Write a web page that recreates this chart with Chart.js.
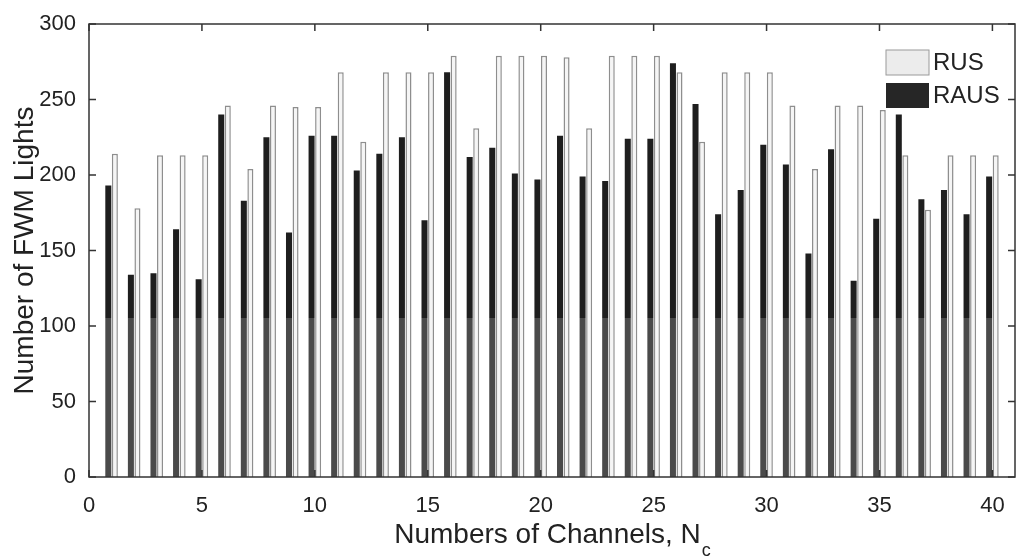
<!DOCTYPE html>
<html lang="en">

<head>
    <meta charset="utf-8">
    <style>
        body { margin: 0; background: #fff; }
        #wrap { position: relative; width: 1017px; height: 558px; }
    </style>
</head>

<body>
    <!-- FWM chart canvas -->
    <div id="wrap">
        <canvas id="FwmChart"></canvas>
    </div>

    <script src="https://cdn.jsdelivr.net/npm/chart.js"></script>

    <script>
        // Data
        const channels = [1, 2, 3, 4, 5, 6, 7, 8, 9, 10, 11, 12, 13, 14, 15, 16, 17, 18, 19, 20,
            21, 22, 23, 24, 25, 26, 27, 28, 29, 30, 31, 32, 33, 34, 35, 36, 37, 38, 39, 40];
        const rusValues = [214, 178, 213, 213, 213, 246, 204, 246, 245, 245, 268, 222, 268, 268, 268, 279, 231, 279, 279, 279,
            278, 231, 279, 279, 279, 268, 222, 268, 268, 268, 246, 204, 246, 246, 243, 213, 177, 213, 213, 213];
        const rausValues = [193, 134, 135, 164, 131, 240, 183, 225, 162, 226, 226, 203, 214, 225, 170, 268, 212, 218, 201, 197,
            226, 199, 196, 224, 224, 274, 247, 174, 190, 220, 207, 148, 217, 130, 171, 240, 184, 190, 174, 199];
        const yTicks = [0, 50, 100, 150, 200, 250, 300];
        const xTicks = [0, 5, 10, 15, 20, 25, 30, 35, 40];

        const FONT = "'Liberation Sans', Arial, sans-serif";

        // Dark bars look a bit washed out in the lower part of the scan
        function darkFill(ctx) {
            const chart = ctx.chart;
            const area = chart.chartArea;
            if (!area) return '#1e1e1e';
            const y = chart.scales.y.getPixelForValue(105);
            const t = Math.min(1, Math.max(0, (y - area.top) / (area.bottom - area.top)));
            const g = chart.ctx.createLinearGradient(0, area.top, 0, area.bottom);
            g.addColorStop(0, '#1e1e1e');
            g.addColorStop(t, '#1e1e1e');
            g.addColorStop(t, '#4a4a4a');
            g.addColorStop(1, '#4a4a4a');
            return g;
        }

        // Box around the plot with inward ticks on all four sides
        const frameTicks = {
            id: 'frameTicks',
            afterDatasetsDraw(chart) {
                const { ctx, chartArea: a, scales } = chart;
                ctx.save();
                ctx.strokeStyle = '#333';
                ctx.lineWidth = 1.5;
                ctx.strokeRect(a.left, a.top, a.right - a.left, a.bottom - a.top);
                ctx.beginPath();
                yTicks.forEach(v => {
                    const y = scales.y.getPixelForValue(v);
                    ctx.moveTo(a.left, y); ctx.lineTo(a.left + 7, y);
                    ctx.moveTo(a.right, y); ctx.lineTo(a.right - 7, y);
                });
                xTicks.forEach(v => {
                    const x = scales.x.getPixelForValue(v);
                    ctx.moveTo(x, a.bottom); ctx.lineTo(x, a.bottom - 7);
                    ctx.moveTo(x, a.top); ctx.lineTo(x, a.top + 7);
                });
                ctx.stroke();
                ctx.restore();
            }
        };

        // Legend inside the plot, top right, no box
        const innerLegend = {
            id: 'innerLegend',
            afterDraw(chart) {
                const { ctx, chartArea: a } = chart;
                const x = a.right - 129;
                const y = a.top + 26;
                ctx.save();
                ctx.fillStyle = '#ececec';
                ctx.strokeStyle = '#9a9a9a';
                ctx.lineWidth = 1;
                ctx.fillRect(x, y, 43, 25);
                ctx.strokeRect(x, y, 43, 25);
                ctx.fillStyle = '#262626';
                ctx.fillRect(x, y + 33, 43, 25);
                ctx.fillStyle = '#222';
                ctx.font = '24px ' + FONT;
                ctx.textBaseline = 'middle';
                ctx.fillText('RUS', x + 47, y + 13);
                ctx.fillText('RAUS', x + 47, y + 46);
                ctx.restore();
            }
        };

        // x axis title with subscript c
        const xTitle = {
            id: 'xTitle',
            afterDraw(chart) {
                const { ctx, chartArea: a } = chart;
                const main = 'Numbers of Channels, N';
                ctx.save();
                ctx.fillStyle = '#222';
                ctx.textBaseline = 'alphabetic';
                ctx.font = '28px ' + FONT;
                const w = ctx.measureText(main).width;
                ctx.font = '18px ' + FONT;
                const ws = ctx.measureText('c').width;
                const x0 = (a.left + a.right) / 2 - (w + ws) / 2;
                ctx.font = '28px ' + FONT;
                ctx.fillText(main, x0, 543);
                ctx.font = '18px ' + FONT;
                ctx.fillText('c', x0 + w + 1, 556);
                ctx.restore();
            }
        };

        const ctx = document.getElementById('FwmChart').getContext('2d');
        const myChart = new Chart(ctx, {
            type: 'bar',
            data: {
                datasets: [{
                    label: 'RAUS',
                    data: channels.map((c, i) => ({ x: c, y: rausValues[i] })),
                    backgroundColor: darkFill,
                    borderWidth: 0,
                    categoryPercentage: 0.58,
                    barPercentage: 0.92,
                }, {
                    label: 'RUS',
                    data: channels.map((c, i) => ({ x: c, y: rusValues[i] })),
                    backgroundColor: '#f5f5f5',
                    borderColor: '#8e8e8e',
                    borderWidth: 1.5,
                    categoryPercentage: 0.58,
                    barPercentage: 0.92,
                }],
            },
            options: {
                responsive: true,
                maintainAspectRatio: false,
                animation: false,
                layout: { padding: { top: 24, right: 2, left: 0, bottom: 0 } },
                plugins: {
                    legend: { display: false },
                    tooltip: { enabled: false },
                },
                scales: {
                    x: {
                        type: 'linear',
                        offset: false,
                        min: 0,
                        max: 41,
                        grid: { display: false },
                        border: { display: false },
                        ticks: {
                            stepSize: 5,
                            includeBounds: false,
                            padding: 8,
                            color: '#222',
                            font: { family: FONT, size: 22 },
                            maxRotation: 0,
                        },
                        afterFit(scale) { scale.height = 81; },
                    },
                    y: {
                        min: 0,
                        max: 300,
                        grid: { display: false },
                        border: { display: false },
                        ticks: {
                            stepSize: 50,
                            padding: 5,
                            color: '#222',
                            font: { family: FONT, size: 22 },
                        },
                        title: {
                            display: true,
                            text: 'Number of FWM Lights',
                            color: '#222',
                            font: { family: FONT, size: 28 },
                            padding: { top: 8, bottom: 4 },
                        },
                        afterFit(scale) { scale.width = 89; },
                    },
                },
            },
            plugins: [frameTicks, innerLegend, xTitle],
        });
    </script>
</body>

</html>
